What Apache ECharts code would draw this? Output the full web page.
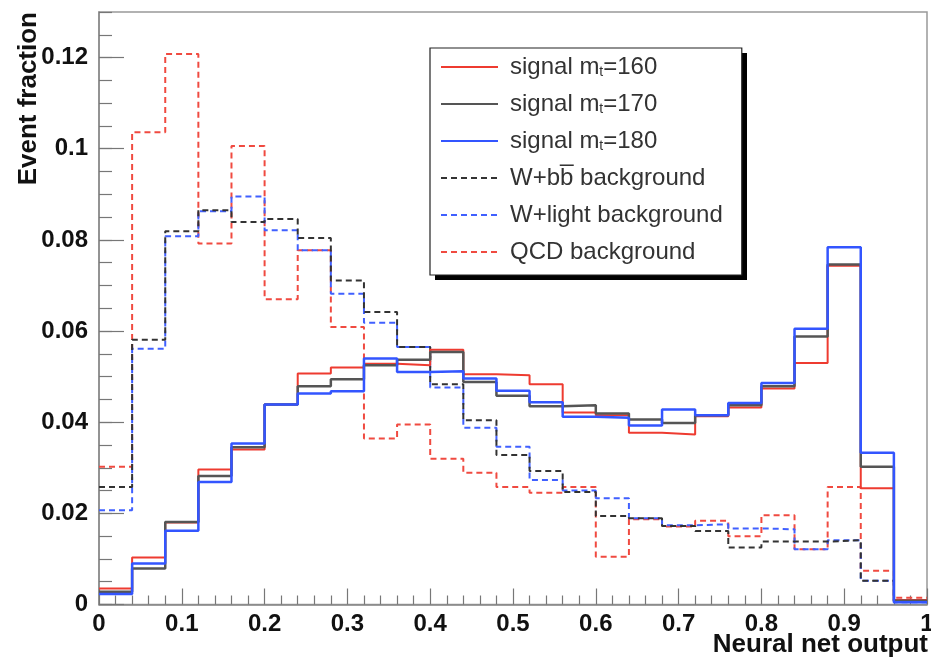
<!DOCTYPE html>
<html><head><meta charset="utf-8">
<script src="https://cdn.jsdelivr.net/npm/echarts@6/dist/echarts.min.js"></script>
<style>html,body{margin:0;padding:0;background:#fff}#c{width:931px;height:667px}</style>
</head><body><div id="c"></div>
<script>
// bin edges of the histogram (25 bins)
const binEdges = [0,0.04,0.08,0.12,0.16,0.2,0.24,0.28,0.32,0.36,0.4,0.44,0.48,0.52,0.56,0.6,0.64,0.68,0.72,0.76,0.8,0.84,0.88,0.92,0.96,1.0];

const sig160 = [0.0035,0.0103,0.0180,0.0296,0.0340,0.0439,0.0507,0.0520,0.0528,0.0525,0.0559,0.0505,0.0503,0.0483,0.0421,0.0415,0.0377,0.0373,0.0413,0.0432,0.0474,0.0530,0.0743,0.0255,0.0010];
const sig170 = [0.0028,0.0079,0.0181,0.0282,0.0345,0.0439,0.0479,0.0494,0.0525,0.0537,0.0554,0.0488,0.0458,0.0435,0.0437,0.0419,0.0406,0.0398,0.0415,0.0437,0.0479,0.0588,0.0746,0.0302,0.0008];
const sig180 = [0.0023,0.0090,0.0162,0.0269,0.0353,0.0439,0.0463,0.0468,0.0540,0.0510,0.0512,0.0496,0.0469,0.0444,0.0412,0.0410,0.0393,0.0428,0.0415,0.0442,0.0486,0.0605,0.0784,0.0333,0.0005];
const wbb    = [0.0258,0.0581,0.0819,0.0865,0.0839,0.0846,0.0804,0.0711,0.0642,0.0565,0.0483,0.0404,0.0328,0.0293,0.0247,0.0194,0.0189,0.0172,0.0161,0.0125,0.0138,0.0138,0.0141,0.0052,0.0008];
const wlight = [0.0207,0.0561,0.0808,0.0863,0.0895,0.0821,0.0777,0.0682,0.0618,0.0565,0.0476,0.0388,0.0346,0.0273,0.0250,0.0233,0.0189,0.0174,0.0176,0.0167,0.0165,0.0121,0.0141,0.0052,0.0005];
const qcd    = [0.0302,0.1036,0.1208,0.0792,0.1006,0.0670,0.0777,0.0609,0.0364,0.0395,0.0320,0.0289,0.0258,0.0245,0.0258,0.0105,0.0187,0.0171,0.0184,0.0150,0.0196,0.0121,0.0258,0.0074,0.0015];

const seriesNames = ['sig160','sig170','sig180','wbb','wlight','qcd'];
const legendLabels = {
  sig160: 'signal m{sub|t}=160',
  sig170: 'signal m{sub|t}=170',
  sig180: 'signal m{sub|t}=180',
  wbb: 'W+bb\u0305 background',
  wlight: 'W+light background',
  qcd: 'QCD background'
};
const xTitle = 'Neural net output';
const yTitle = 'Event fraction';

function steps(vals){
  const d = vals.map((v,i)=>[binEdges[i], v]);
  d.push([binEdges[vals.length], vals[vals.length-1]]);
  return d;
}
function mk(name, vals, color, width, type, z){
  return {name, type:'line', step:'end', symbol:'none', data: steps(vals), z,
    lineStyle:{color, width, type}, itemStyle:{color}, emphasis:{disabled:true}};
}

const chart = echarts.init(document.getElementById('c'), null, {renderer:'canvas'});
const FONT = 'Liberation Sans, Arial, Helvetica, sans-serif';
chart.setOption({
  animation:false,
  grid:{left:99, right:4, top:12, bottom:62.5, outerBoundsMode:'none', containLabel:false,
    show:true, borderColor:'#999', borderWidth:1.5, backgroundColor:'#fff'},
  xAxis:{type:'value', min:0, max:1, interval:0.1,
    axisLine:{show:true, lineStyle:{color:'#888', width:1.5}},
    axisTick:{show:true, inside:true, length:16, lineStyle:{color:'#777', width:1.2}},
    minorTick:{show:true, splitNumber:5, length:9, lineStyle:{color:'#777', width:1.2}},
    splitLine:{show:false},
    axisLabel:{fontFamily:FONT, fontWeight:'bold', fontSize:24, color:'#111', margin:8}},
  yAxis:[
    {type:'value', min:0, max:0.13, interval:0.005,
      axisLine:{show:true, lineStyle:{color:'#888', width:1.5}},
      axisTick:{show:true, inside:true, length:13, lineStyle:{color:'#777', width:1.2}},
      axisLabel:{show:false}, splitLine:{show:false}},
    {type:'value', min:0, max:0.13, interval:0.02, position:'left',
      axisLine:{show:false},
      axisTick:{show:true, inside:true, length:25, lineStyle:{color:'#777', width:1.2}},
      axisLabel:{fontFamily:FONT, fontWeight:'bold', fontSize:24, color:'#111', margin:11, showMaxLabel:false},
      splitLine:{show:false}}
  ],
  legend:{orient:'vertical', left:430, top:48, padding:[7,19,11,10], itemWidth:57, itemHeight:14, itemGap:13,
    backgroundColor:'#fff', borderColor:'#222', borderWidth:1.2, borderRadius:0, z:10,
    itemStyle:{opacity:0},
    data: seriesNames,
    formatter: n => legendLabels[n],
    textStyle:{fontFamily:FONT, fontSize:24, color:'#333', lineHeight:24, padding:[0,0,0,7],
      rich:{sub:{fontFamily:FONT, fontSize:14, color:'#333', lineHeight:14, padding:[10,0,0,0]}}}},
  graphic:[
    {type:'rect', left:435, top:53, z:5, shape:{width:312, height:227}, style:{fill:'#000'}},
    {type:'text', right:3, top:632, style:{text:xTitle, font:'bold 26px Liberation Sans, Arial, sans-serif', fill:'#111'}},
    {type:'text', left:16, top:12, rotation:Math.PI/2, style:{text:yTitle, font:'bold 26px Liberation Sans, Arial, sans-serif', fill:'#111'}}
  ],
  series:[
    mk('qcd', qcd, '#f04a40', 2, [6,4], 2),
    mk('wlight', wlight, '#4060ff', 2, [6,4], 3),
    mk('wbb', wbb, '#333', 2, [6,4], 4),
    mk('sig160', sig160, '#ee3b30', 2, 'solid', 5),
    mk('sig170', sig170, '#555', 2.5, 'solid', 6),
    mk('sig180', sig180, '#3355ff', 2.5, 'solid', 7)
  ]
});
</script></body></html>
